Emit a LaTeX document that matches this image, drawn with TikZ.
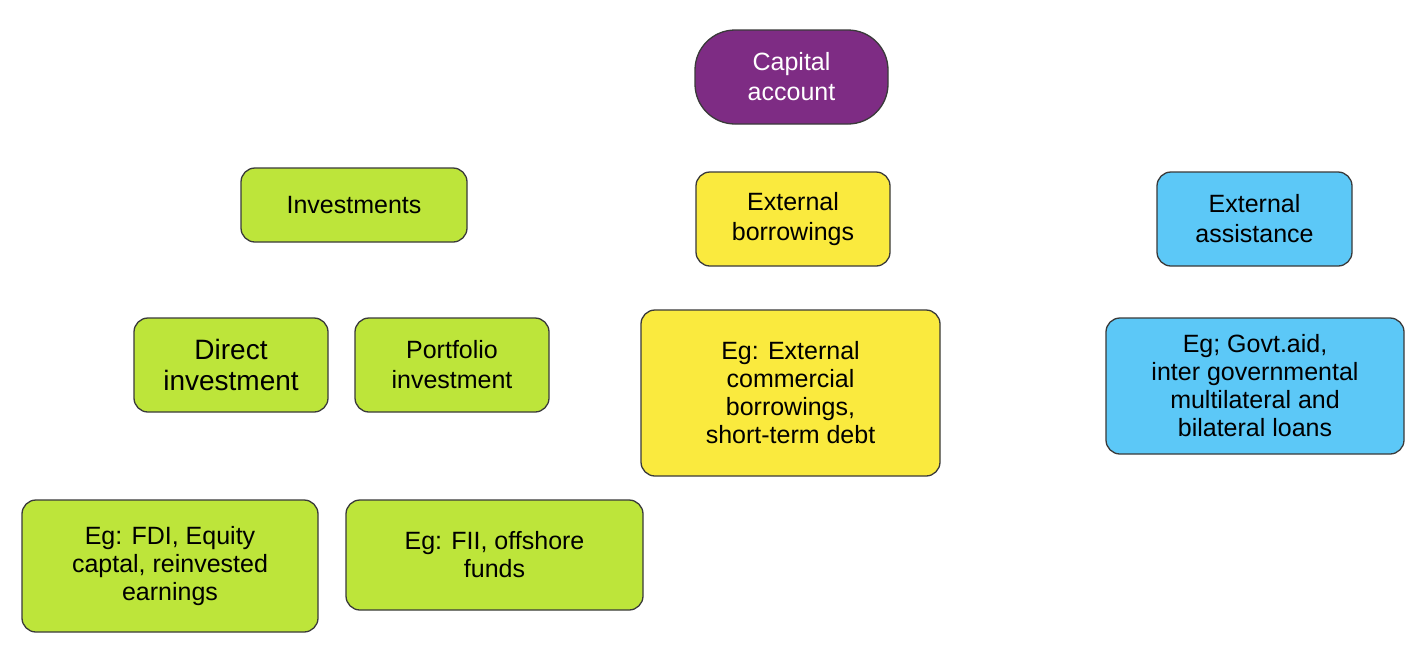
\documentclass[tikz,border=0pt]{standalone}
\usepackage{fontspec}
\setmainfont{Liberation Sans}
\usetikzlibrary{backgrounds}
\definecolor{cpurple}{HTML}{7E2C84}
\definecolor{cgreen}{HTML}{BDE53A}
\definecolor{cyellow}{HTML}{FAEA3E}
\definecolor{cblue}{HTML}{5CC8F7}
\definecolor{cline}{HTML}{3A3A3A}
\begin{document}
\begin{tikzpicture}[x=1pt,y=-1pt,
  box/.style={draw=cline,line width=1.3pt,rounded corners=14pt,align=center,inner sep=0pt,font=\fontsize{25}{30}\selectfont},
  conn/.style={draw=cline,line width=5pt,rounded corners=12pt}]
\useasboundingbox[fill=white] (0,0) rectangle (1423,665);
\node[box,fill=cpurple,text=white,rounded corners=40pt,minimum width=193pt,minimum height=94pt] (cap) at (791.5,77) {Capital\\account};
\node[box,fill=cgreen,minimum width=226pt,minimum height=74pt] (inv) at (354,205) {Investments};
\node[box,fill=cyellow,minimum width=194pt,minimum height=94pt] (eb) at (793,219) {External\\borrowings};
\node[box,fill=cblue,minimum width=195pt,minimum height=94pt] (ea) at (1254.5,219) {External\\assistance};
\node[box,fill=cgreen,minimum width=194pt,minimum height=94pt,font=\fontsize{28}{31}\selectfont] (di) at (231,365) {Direct\\investment};
\node[box,fill=cgreen,minimum width=194pt,minimum height=94pt] (pi) at (452,365) {Portfolio\\investment};
\node[box,fill=cyellow,minimum width=299pt,minimum height=166pt,font=\fontsize{25}{28}\selectfont] (ebx) at (790.5,393) {Eg: External\\commercial\\borrowings,\\short-term debt};
\node[box,fill=cblue,minimum width=298pt,minimum height=136pt,font=\fontsize{25}{28}\selectfont] (eax) at (1255,386) {Eg; Govt.aid,\\inter governmental\\multilateral and\\bilateral loans};
\node[box,fill=cgreen,minimum width=296pt,minimum height=132pt,font=\fontsize{25}{28}\selectfont] (dix) at (170,566) {Eg: FDI, Equity\\captal, reinvested\\earnings};
\node[box,fill=cgreen,minimum width=297pt,minimum height=110pt,font=\fontsize{25}{28}\selectfont] (pix) at (494.5,555) {Eg: FII, offshore\\funds};
\coordinate (bar) at (791.5,152);
\coordinate (bar2) at (340,290);
\begin{scope}[on background layer]
\draw[conn] (cap.south) -- (bar);
\draw[conn] (bar) -| (inv.north -| bar2);
\draw[conn] (bar) -| (ea.north);
\draw[conn] (eb.north) -- (bar);
\draw[conn] (inv.south -| bar2) -- (bar2);
\draw[conn] (bar2) -| (di.north -| 212,0);
\draw[conn] (bar2) -| (pi.north -| 442,0);
\draw[conn] (di.south -| 212,0) -- (dix.north -| 212,0);
\draw[conn] (pi.south -| 444,0) -- (pix.north -| 444,0);
\draw[conn] (eb.south) -- (ebx.north -| eb.south);
\draw[conn] (ea.south) -- (eax.north -| ea.south);
\end{scope}
\end{tikzpicture}
\end{document}
